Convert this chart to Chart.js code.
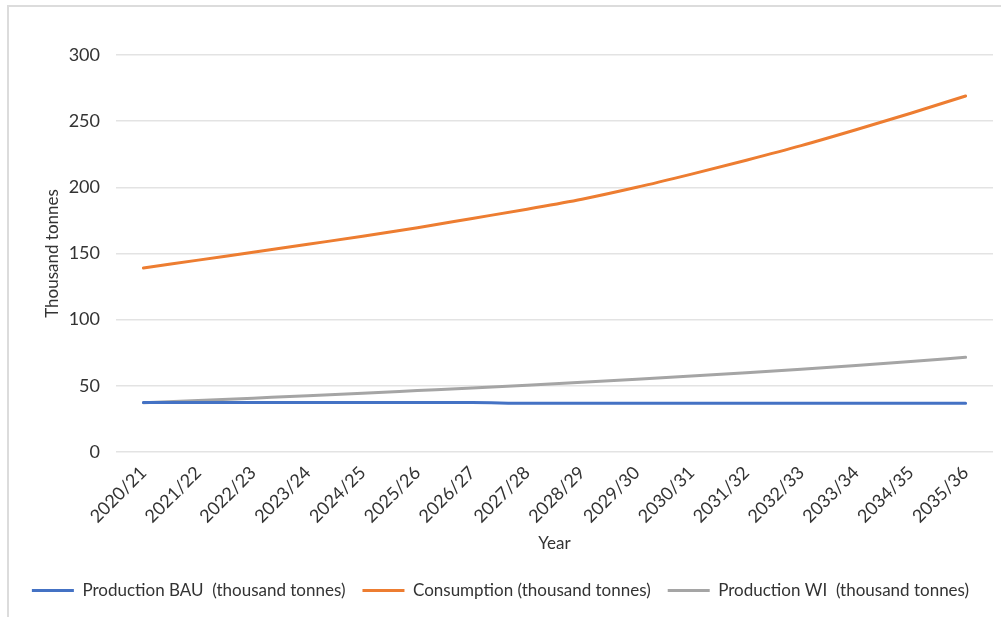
<!DOCTYPE html>
<html>
<head>
<meta charset="utf-8">
<script src="https://cdn.jsdelivr.net/npm/chart.js@4/dist/chart.umd.min.js"></script>
<style>
  html, body { margin: 0; padding: 0; background: #ffffff; }
  #wrap { position: relative; width: 1001px; height: 617px; overflow: hidden; }
  #frame { position: absolute; left: 7px; top: 5px; width: 1010px; height: 630px;
           border: 2px solid #dcdcdc; box-sizing: border-box; }
  canvas { position: absolute; left: 0; top: 0; }
</style>
</head>
<body>
<div id="wrap">
  <div id="frame"></div>
  <canvas id="c" width="1001" height="617"></canvas>
</div>
<script>
// Marketing years on the category axis
const years = ['2020/21','2021/22','2022/23','2023/24','2024/25','2025/26','2026/27','2027/28',
               '2028/29','2029/30','2030/31','2031/32','2032/33','2033/34','2034/35','2035/36'];

// Thousand tonnes per year
const productionBAU = [37.5, 37.5, 37.5, 37.4, 37.4, 37.4, 37.4, 36.8, 36.8, 36.8, 36.8, 36.8, 36.8, 36.8, 36.8, 36.8];
const consumption   = [139, 145, 151, 157, 163, 169.5, 176.5, 183.5, 191, 200, 210, 220.5, 231.5, 243.5, 256, 269];
const productionWI  = [37.3, 38.9, 40.7, 42.5, 44.4, 46.4, 48.4, 50.5, 52.7, 55, 57.4, 59.9, 62.5, 65.3, 68.3, 71.6];

const yTicks = [0, 50, 100, 150, 200, 250, 300];

const seriesNames = ['Production BAU  (thousand tonnes)', 'Consumption (thousand tonnes)', 'Production WI  (thousand tonnes)'];
const seriesColors = ['#4472C4', '#ED7D31', '#A5A5A5'];

const FONT = 'Lato, "Open Sans", sans-serif';
const TEXT = '#333333';

const PAD_LEFT = 8;
const PLOT_LEFT = 116;
const PLOT_BOTTOM = 452;
const PAD_BOTTOM = 8;

function series(i, data) {
  return {
    label: seriesNames[i],
    data: data,
    borderColor: seriesColors[i],
    backgroundColor: seriesColors[i],
    borderWidth: 3,
    borderCapStyle: 'round',
    borderJoinStyle: 'round',
    pointRadius: 0,
    pointHoverRadius: 0,
    cubicInterpolationMode: 'monotone',
    fill: false
  };
}

new Chart(document.getElementById('c'), {
  type: 'line',
  data: {
    labels: years,
    datasets: [series(0, productionBAU), series(1, consumption), series(2, productionWI)]
  },
  options: {
    responsive: false,
    animation: false,
    events: [],
    layout: { padding: { top: 55, right: 8, left: PAD_LEFT, bottom: PAD_BOTTOM } },
    plugins: {
      tooltip: { enabled: false },
      legend: {
        position: 'bottom',
        labels: {
          boxWidth: 42,
          boxHeight: 3,
          padding: 17,
          color: TEXT,
          font: { family: FONT, size: 17 },
          generateLabels: (chart) => chart.data.datasets.map((d, i) => ({
            text: d.label,
            fillStyle: d.borderColor,
            strokeStyle: d.borderColor,
            lineWidth: 0,
            fontColor: TEXT,
            datasetIndex: i,
            hidden: false
          }))
        }
      }
    },
    scales: {
      x: {
        type: 'category',
        offset: true,
        grid: { display: false, drawTicks: false },
        border: { display: false },
        ticks: {
          color: TEXT,
          font: { family: FONT, size: 18 },
          minRotation: 45,
          maxRotation: 45,
          autoSkip: false,
          padding: 10
        },
        title: {
          display: true,
          text: 'Year',
          color: TEXT,
          font: { family: FONT, size: 17 },
          padding: { top: 11, bottom: 11 }
        },
        afterFit: (s) => {
          const lg = s.chart.legend ? s.chart.legend.height : 44;
          s.height = s.chart.height - PAD_BOTTOM - lg - PLOT_BOTTOM;
        }
      },
      y: {
        min: 0,
        max: 300,
        afterBuildTicks: (s) => { s.ticks = yTicks.map(v => ({ value: v })); },
        grid: { color: '#e3e3e3', lineWidth: 1.6, drawTicks: false },
        border: { display: false },
        ticks: {
          color: TEXT,
          font: { family: FONT, size: 18 },
          padding: 16
        },
        title: {
          display: true,
          text: 'Thousand tonnes',
          color: TEXT,
          font: { family: FONT, size: 17 },
          padding: { top: 34, bottom: 34 }
        },
        afterFit: (s) => { s.width = PLOT_LEFT - PAD_LEFT; }
      }
    }
  }
});
</script>
</body>
</html>
